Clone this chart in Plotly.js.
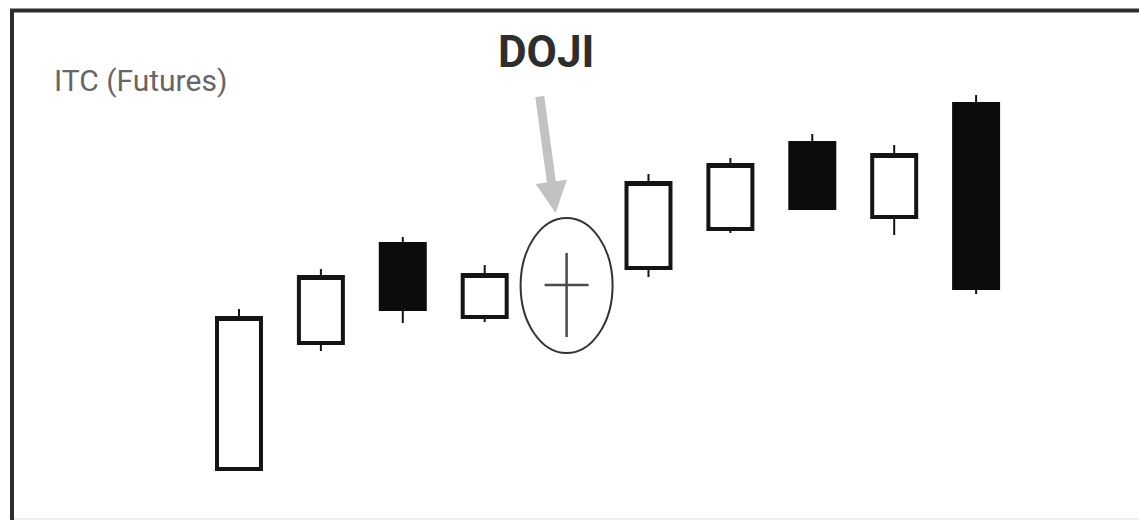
<!DOCTYPE html>
<html>
<head>
<meta charset="utf-8">
<script src="https://cdn.plot.ly/plotly-3.0.1.min.js"></script>
<style>html,body{margin:0;padding:0;background:#fff;}#chart{width:1139px;height:520px;}</style>
</head>
<body>
<div id="chart"></div>
<script>
// Candle sessions (index) and OHLC values
const sessions = [1, 2, 3, 4, 5, 6, 7, 8, 9, 10];
const openVals  = [215.5, 278.5, 328.0, 291.5, 307.5, 316.0, 335.5, 378.5, 341.5, 398.0];
const highVals  = [295.5, 315.5, 331.5, 317.5, 323.5, 363.0, 371.0, 383.0, 377.5, 402.5];
const lowVals   = [215.5, 274.5, 288.5, 289.0, 281.5, 311.5, 333.5, 346.0, 332.5, 303.0];
const closeVals = [291.0, 311.5, 295.5, 312.5, 307.5, 358.5, 367.5, 346.0, 372.5, 306.0];
const dojiIndex = 4;
const seriesLabel = 'ITC (Futures)';
const patternLabel = 'DOJI';

const isDoji = sessions.map((_, i) => i === dojiIndex);
const pick = (arr, keep) => arr.map((v, i) => keep(i) ? v : null);
const notDoji = i => !isDoji[i];
const onlyDoji = i => isDoji[i];

// Trace A: wicks (thin)
const wicks = {
  type: 'candlestick', x: sessions,
  open: pick(openVals, notDoji), high: pick(highVals, notDoji),
  low: pick(lowVals, notDoji), close: pick(closeVals, notDoji),
  increasing: {line: {color: '#141414', width: 2}, fillcolor: '#ffffff'},
  decreasing: {line: {color: '#141414', width: 2}, fillcolor: '#0c0c0c'},
  hoverinfo: 'skip', showlegend: false
};
// Trace B: bodies (thick outline), no wicks
const bodyTop = openVals.map((o, i) => Math.max(o, closeVals[i]));
const bodyBot = openVals.map((o, i) => Math.min(o, closeVals[i]));
const bodies = {
  type: 'candlestick', x: sessions,
  open: pick(openVals, notDoji), high: pick(bodyTop, notDoji),
  low: pick(bodyBot, notDoji), close: pick(closeVals, notDoji),
  increasing: {line: {color: '#141414', width: 4}, fillcolor: '#ffffff'},
  decreasing: {line: {color: '#0c0c0c', width: 4}, fillcolor: '#0c0c0c'},
  hoverinfo: 'skip', showlegend: false
};
// Trace C: the doji
const doji = {
  type: 'candlestick', x: sessions,
  open: pick(openVals, onlyDoji), high: pick(highVals, onlyDoji),
  low: pick(lowVals, onlyDoji), close: pick(closeVals, onlyDoji),
  increasing: {line: {color: '#4a4a4a', width: 2.5}, fillcolor: '#ffffff'},
  decreasing: {line: {color: '#4a4a4a', width: 2.5}, fillcolor: '#ffffff'},
  hoverinfo: 'skip', showlegend: false
};

const dx = sessions[dojiIndex];
const layout = {
  width: 1139, height: 520,
  margin: {l: 0, r: 0, t: 0, b: 0},
  paper_bgcolor: '#ffffff', plot_bgcolor: '#ffffff',
  showlegend: false,
  boxgap: 0.463, boxgroupgap: 0,
  xaxis: {range: [-1.918, 11.989], visible: false, showgrid: false, zeroline: false, rangeslider: {visible: false}, fixedrange: true},
  yaxis: {range: [190, 450], visible: false, showgrid: false, zeroline: false, fixedrange: true},
  shapes: [
    {type: 'line', xref: 'paper', yref: 'paper', x0: 10/1139, x1: 1, y0: 1 - 10.5/520, y1: 1 - 10.5/520, line: {color: '#2e2e2e', width: 4}},
    {type: 'line', xref: 'paper', yref: 'paper', x0: 12/1139, x1: 12/1139, y0: 1 - 9/520, y1: 0, line: {color: '#2e2e2e', width: 4}},
    {type: 'line', xref: 'paper', yref: 'paper', x0: 14/1139, x1: 1, y0: 1/520, y1: 1/520, line: {color: '#e6e6ee', width: 1.5}},
    {type: 'circle', xref: 'x', yref: 'y', xsizemode: 'pixel', ysizemode: 'pixel',
     xanchor: dx, yanchor: closeVals[dojiIndex], x0: -46, x1: 46, y0: -68, y1: 67,
     line: {color: '#333333', width: 2}, fillcolor: 'rgba(0,0,0,0)'}
  ],
  annotations: [
    {xref: 'paper', yref: 'paper', x: 52/1139, y: 1 - 80/520, xanchor: 'left', yanchor: 'middle',
     text: seriesLabel, showarrow: false, font: {family: 'Roboto, sans-serif', size: 30, color: '#666666'}},
    {xref: 'paper', yref: 'paper', x: 546/1139, y: 1 - 52/520, xanchor: 'center', yanchor: 'middle',
     text: '<b>' + patternLabel + '</b>', showarrow: false, font: {family: 'Roboto, sans-serif', size: 44, color: '#2e2e2e'}},
    {xref: 'x', yref: 'y', x: dx, y: highVals[dojiIndex], xshift: -11, yshift: 40,
     text: '', showarrow: true, arrowhead: 2, arrowsize: 0.7, arrowwidth: 9, arrowcolor: '#c2c2c2',
     ax: -16, ay: -118, standoff: 0}
  ]
};

Plotly.newPlot('chart', [wicks, bodies, doji], layout, {staticPlot: true, displayModeBar: false});
</script>
</body>
</html>
